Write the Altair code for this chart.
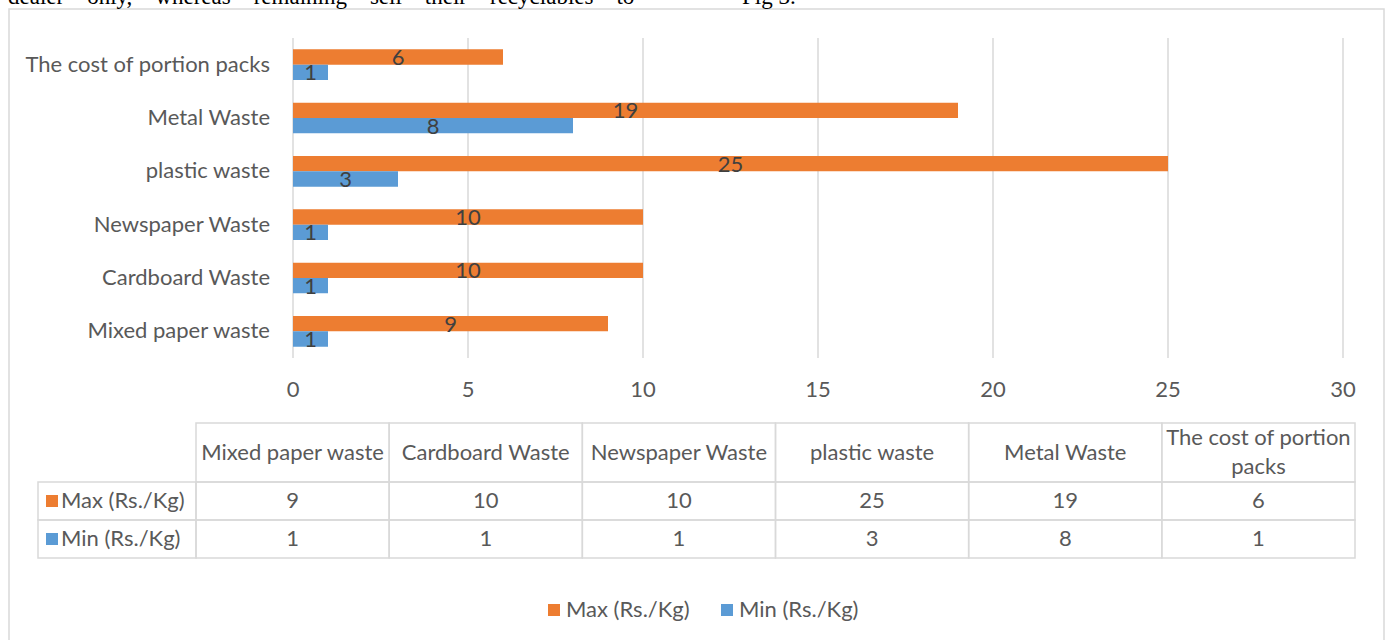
import altair as alt
import pandas as pd

# ---------------- data ----------------
categories = ["Mixed paper waste", "Cardboard Waste", "Newspaper Waste",
              "plastic waste", "Metal Waste", "The cost of portion packs"]
header_labels = ["Mixed paper waste", "Cardboard Waste", "Newspaper Waste",
                 "plastic waste", "Metal Waste", "The cost of portion\npacks"]
max_values = [9, 10, 10, 25, 19, 6]
min_values = [1, 1, 1, 3, 8, 1]
series = ["Max (Rs./Kg)", "Min (Rs./Kg)"]
x_ticks = [0, 5, 10, 15, 20, 25, 30]
caption_words = ["dealer", "only,", "whereas", "remaining", "sell", "their", "recyclables", "to"]
caption_right = "Fig 3."

# ---------------- tables built from the arrays ----------------
long_df = pd.DataFrame(
    [{"category": c, "series": s, "value": v}
     for s, vals in zip(series, [max_values, min_values])
     for c, v in zip(categories, vals)]
)
cat_df = pd.DataFrame({"category": categories, "label": header_labels})
tick_df = pd.DataFrame({"tick": x_ticks})
series_df = pd.DataFrame({"series": series})
one_df = pd.DataFrame({"k": [0]})
caption_left = ("\u00a0" * 4).join(caption_words)

FONT = "Lato"
TXT = "#595959"
GRID = "#D9D9D9"
FS = 22

# ---------------- scales ----------------
x_scale = alt.Scale(domain=[0, 30], range=[293, 1343], nice=False, zero=True)
y_scale = alt.Scale(domain=categories[::-1], range=[38, 358],
                    paddingInner=0.426, paddingOuter=0.213)
yoff_scale = alt.Scale(domain=series, paddingInner=0, paddingOuter=0)
color_scale = alt.Scale(domain=series, range=["#ED7D31", "#5B9BD5"])
col_scale = alt.Scale(domain=categories, range=[196, 1355], paddingInner=0, paddingOuter=0)
row_scale = alt.Scale(domain=series, range=[482, 558], paddingInner=0, paddingOuter=0)
legend_scale = alt.Scale(type="point", domain=series, range=[554, 727], padding=0)

color_enc = alt.Color("series:N", scale=color_scale, legend=None)

# ---------------- chart part ----------------
border = alt.Chart(one_df).mark_rect(fillOpacity=0, stroke=GRID, strokeWidth=1.5).encode(
    x=alt.value(9), x2=alt.value(1384), y=alt.value(9), y2=alt.value(700))

caption1 = alt.Chart(one_df).mark_text(
    font="Liberation Serif", fontSize=23, align="left", baseline="alphabetic", color="black"
).encode(x=alt.value(8), y=alt.value(4), text=alt.value(caption_left))
caption2 = alt.Chart(one_df).mark_text(
    font="Liberation Serif", fontSize=23, align="left", baseline="alphabetic", color="black"
).encode(x=alt.value(742), y=alt.value(4), text=alt.value(caption_right))

grid = alt.Chart(tick_df).mark_rule(color=GRID, strokeWidth=1.5).encode(
    x=alt.X("tick:Q", scale=x_scale, axis=None), y=alt.value(38), y2=alt.value(358))

bars = alt.Chart(long_df).mark_bar().encode(
    x=alt.X("value:Q", scale=x_scale, axis=None, stack=None),
    y=alt.Y("category:N", scale=y_scale, axis=None, sort=None),
    yOffset=alt.YOffset("series:N", scale=yoff_scale, sort=None),
    color=color_enc,
)

bar_labels = alt.Chart(long_df).transform_calculate(mid="datum.value / 2").mark_text(
    font=FONT, fontSize=FS, color="#404040", baseline="middle", dy=1
).encode(
    x=alt.X("mid:Q", scale=x_scale, axis=None),
    y=alt.Y("category:N", scale=y_scale, axis=None, sort=None),
    yOffset=alt.YOffset("series:N", scale=yoff_scale, sort=None),
    text="value:Q",
)

cat_labels = alt.Chart(cat_df).mark_text(
    font=FONT, fontSize=FS, color=TXT, align="right", baseline="middle"
).encode(
    y=alt.Y("category:N", scale=y_scale, axis=None, sort=None),
    x=alt.value(270), text="category:N")

tick_labels = alt.Chart(tick_df).mark_text(
    font=FONT, fontSize=FS, color=TXT, baseline="middle"
).encode(x=alt.X("tick:Q", scale=x_scale, axis=None), y=alt.value(390), text="tick:Q")

# ---------------- data table ----------------
cell_style = dict(fillOpacity=0, stroke=GRID, strokeWidth=1.5)
header_cells = alt.Chart(cat_df).mark_rect(**cell_style).encode(
    x=alt.X("category:N", scale=col_scale, axis=None, sort=None),
    y=alt.value(423), y2=alt.value(482))
value_cells = alt.Chart(long_df).mark_rect(**cell_style).encode(
    x=alt.X("category:N", scale=col_scale, axis=None, sort=None),
    y=alt.Y("series:N", scale=row_scale, axis=None, sort=None))
left_cells = alt.Chart(series_df).mark_rect(**cell_style).encode(
    x=alt.value(38), x2=alt.value(196),
    y=alt.Y("series:N", scale=row_scale, axis=None, sort=None))

header_text_1 = alt.Chart(cat_df).transform_filter(
    "indexof(datum.label, '\\n') < 0"
).mark_text(font=FONT, fontSize=FS, color=TXT, baseline="middle").encode(
    x=alt.X("category:N", scale=col_scale, axis=None, sort=None),
    y=alt.value(453), text="label:N")
header_text_2 = alt.Chart(cat_df).transform_filter(
    "indexof(datum.label, '\\n') >= 0"
).mark_text(font=FONT, fontSize=FS, color=TXT, baseline="middle",
            lineBreak="\n", lineHeight=29).encode(
    x=alt.X("category:N", scale=col_scale, axis=None, sort=None),
    y=alt.value(438), text="label:N")
value_text = alt.Chart(long_df).mark_text(
    font=FONT, fontSize=FS, color=TXT, baseline="middle"
).encode(
    x=alt.X("category:N", scale=col_scale, axis=None, sort=None),
    y=alt.Y("series:N", scale=row_scale, axis=None, sort=None),
    text="value:Q")
left_text = alt.Chart(series_df).mark_text(
    font=FONT, fontSize=FS, color=TXT, baseline="middle", align="left"
).encode(
    x=alt.value(61),
    y=alt.Y("series:N", scale=row_scale, axis=None, sort=None),
    text="series:N")
left_keys = alt.Chart(series_df).mark_square(size=144, filled=True, opacity=1).encode(
    x=alt.value(52),
    y=alt.Y("series:N", scale=row_scale, axis=None, sort=None),
    color=color_enc)

# ---------------- bottom legend ----------------
legend_keys = alt.Chart(series_df).mark_square(size=144, filled=True, opacity=1).encode(
    x=alt.X("series:N", scale=legend_scale, axis=None, sort=None),
    y=alt.value(610), color=color_enc)
legend_text = alt.Chart(series_df).mark_text(
    font=FONT, fontSize=FS, color=TXT, baseline="middle", align="left", dx=12
).encode(
    x=alt.X("series:N", scale=legend_scale, axis=None, sort=None),
    y=alt.value(610), text="series:N")

chart = alt.layer(
    border, caption1, caption2, grid, bars, bar_labels, cat_labels, tick_labels,
    header_cells, value_cells, left_cells, header_text_1, header_text_2,
    value_text, left_text, left_keys, legend_keys, legend_text
).resolve_scale(
    x="independent", y="independent"
).properties(
    width=1389, height=640,
    autosize=alt.AutoSizeParams(type="none"),
    padding=0,
    background="white",
).configure_view(strokeWidth=0)

chart.save("out.html", embed_options={"renderer": "svg", "actions": False})
